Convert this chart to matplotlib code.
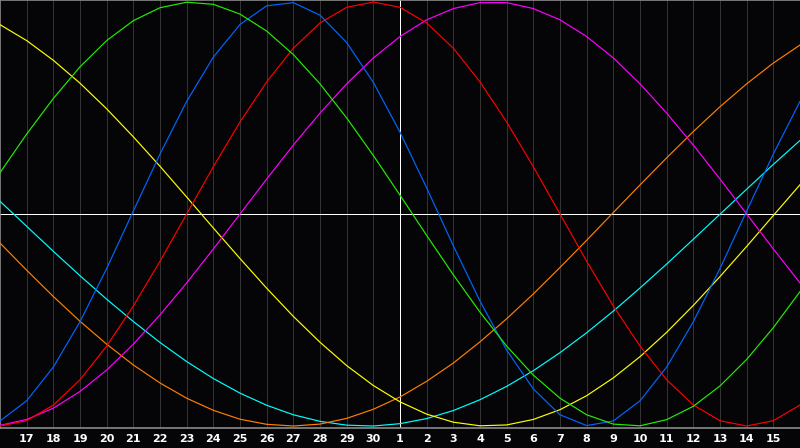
import matplotlib
matplotlib.use("Agg")
import matplotlib.pyplot as plt

# days shown: 16 .. 30, 1 .. 16 (today = 1)
day_labels = ['17', '18', '19', '20', '21', '22', '23', '24', '25', '26', '27', '28', '29', '30',
              '1', '2', '3', '4', '5', '6', '7', '8', '9', '10', '11', '12', '13', '14', '15']
days = list(range(31))
today = 15

# cycle values, one per day
physical = [-0.976, -0.881, -0.722, -0.508, -0.257, 0.014, 0.283, 0.531, 0.740, 0.894, 0.982,
            0.997, 0.938, 0.809, 0.621, 0.386, 0.123, -0.150, -0.411, -0.642, -0.825,
            -0.947, -0.998, -0.976, -0.881, -0.722, -0.508, -0.257, 0.014, 0.283, 0.531]
emotional = [-1.000, -0.975, -0.901, -0.782, -0.623, -0.434, -0.223, 0.000, 0.223, 0.434, 0.623,
             0.782, 0.901, 0.975, 1.000, 0.975, 0.901, 0.782, 0.623, 0.434, 0.223,
             0.000, -0.223, -0.434, -0.623, -0.782, -0.901, -0.975, -1.000, -0.975, -0.901]
intellectual = [0.195, 0.377, 0.545, 0.694, 0.818, 0.912, 0.973, 0.999, 0.989, 0.943, 0.863,
                0.752, 0.614, 0.453, 0.276, 0.089, -0.101, -0.287, -0.463, -0.623, -0.760,
                -0.869, -0.947, -0.991, -0.999, -0.970, -0.907, -0.811, -0.686, -0.536, -0.366]
intuitive = [-0.997, -0.969, -0.916, -0.837, -0.736, -0.614, -0.476, -0.325, -0.165, 0.000, 0.165,
             0.325, 0.476, 0.614, 0.736, 0.837, 0.916, 0.969, 0.997, 0.997, 0.969,
             0.916, 0.837, 0.736, 0.614, 0.476, 0.325, 0.165, 0.000, -0.165, -0.325]
aesthetic = [0.893, 0.818, 0.725, 0.617, 0.496, 0.364, 0.225, 0.080, -0.066, -0.210, -0.350,
             -0.483, -0.605, -0.715, -0.809, -0.886, -0.944, -0.982, -0.999, -0.995, -0.969,
             -0.923, -0.857, -0.773, -0.673, -0.558, -0.431, -0.295, -0.153, -0.007, 0.138]
awareness = [-0.137, -0.265, -0.389, -0.506, -0.614, -0.712, -0.797, -0.869, -0.926, -0.968, -0.992,
             -1.000, -0.991, -0.964, -0.921, -0.863, -0.789, -0.703, -0.603, -0.494, -0.377,
             -0.252, -0.124, 0.007, 0.137, 0.265, 0.389, 0.506, 0.614, 0.712, 0.797]
spiritual = [0.060, -0.058, -0.176, -0.291, -0.402, -0.507, -0.606, -0.696, -0.776, -0.845, -0.902,
             -0.947, -0.978, -0.996, -1.000, -0.989, -0.965, -0.927, -0.876, -0.813, -0.739,
             -0.654, -0.560, -0.458, -0.349, -0.236, -0.119, -0.001, 0.117, 0.234, 0.347]

series = [
    (spiritual, '#00ffff'),
    (awareness, '#ff8000'),
    (aesthetic, '#ffff00'),
    (intuitive, '#ff00ff'),
    (emotional, '#ff0000'),
    (physical, '#0066ff'),
    (intellectual, '#22ee00'),
]

bg = '#050508'
fig = plt.figure(figsize=(8, 4.48), dpi=100, facecolor=bg)
ax = fig.add_axes([0, 20 / 448, 1, 428 / 448], facecolor=bg)

# day grid
for d in days[1:-1]:
    ax.axvline(d, color='#333333', lw=0.72, antialiased=False, zorder=1)
ax.axhline(0, color='white', lw=0.72, antialiased=False, zorder=2)
ax.axvline(today, color='white', lw=0.72, antialiased=False, zorder=2)

for vals, col in series:
    ax.plot(days, vals, color=col, lw=0.85, zorder=3)

ax.set_xlim(0, 30)
ax.set_ylim(-1.0094, 1.0094)
ax.set_yticks([])
ax.set_xticks(days[1:-1])
ax.set_xticklabels(day_labels, color='white', fontsize=8, fontweight='bold', family='DejaVu Sans')
ax.tick_params(axis='x', length=0, pad=4)

for side in ['left', 'top', 'bottom']:
    ax.spines[side].set_color('#8a8a8a')
    ax.spines[side].set_linewidth(1.2)
ax.spines['right'].set_visible(False)

fig.savefig('out.png', dpi=100, facecolor=bg)
